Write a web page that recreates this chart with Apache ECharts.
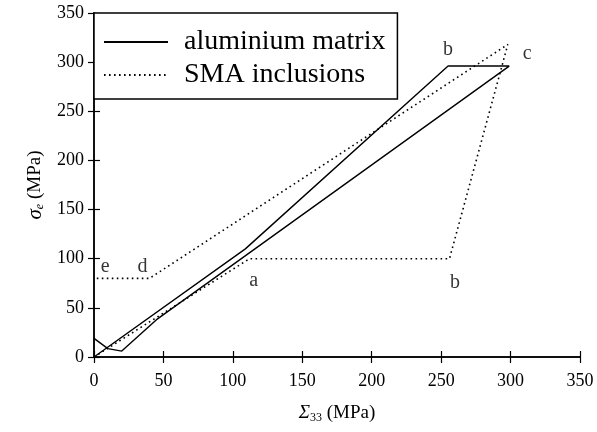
<!DOCTYPE html>
<html>
<head>
<meta charset="utf-8">
<script src="https://cdn.jsdelivr.net/npm/echarts@6/dist/echarts.min.js"></script>
<style>
  html, body { margin: 0; padding: 0; background: #fff; }
  #chart { width: 597px; height: 432px; }
</style>
</head>
<body>
<div id="chart"></div>
<script>
// 数据: aluminium matrix 路径 (Σ33, σe)
const matrixX = [0, 109, 255, 299, 45, 20, 10, 0];
const matrixY = [0, 110, 296, 296, 38, 6, 8.5, 19];
// SMA inclusions 路径
const smaX = [0, 112, 256, 298, 40, 0];
const smaY = [0, 100, 100, 318, 80, 80];
// 图上的字母标注
const noteNames = ['a', 'b', 'b', 'c', 'd', 'e'];
const noteX = [115, 260, 255, 312, 35, 8];
const noteY = [78, 76, 313, 309, 92, 92];
const xTicks = [0, 50, 100, 150, 200, 250, 300, 350];
const yTicks = [0, 50, 100, 150, 200, 250, 300, 350];

const serif = 'Liberation Serif';
const pair = (xs, ys) => xs.map((x, i) => [x, ys[i]]);

const chart = echarts.init(document.getElementById('chart'));
const axisBase = {
  type: 'value',
  min: 0,
  max: 350,
  interval: 50,
  axisLine: { show: true, lineStyle: { color: '#000', width: 1.5 } },
  axisTick: { show: true, inside: true, length: 6, lineStyle: { color: '#000', width: 1.2 } },
  splitLine: { show: false },
};
chart.setOption({
  animation: false,
  backgroundColor: '#fff',
  color: ['#000', '#000'],
  grid: { left: 94, right: 17, top: 13, bottom: 75 },
  legend: {
    left: 94,
    top: 13,
    orient: 'vertical',
    data: [
      { name: 'aluminium matrix', itemStyle: { opacity: 0 } },
      { name: 'SMA inclusions', itemStyle: { opacity: 0 } },
    ],
    itemWidth: 64,
    itemHeight: 14,
    itemGap: 5,
    padding: [15, 12, 10, 9],
    borderColor: '#000',
    borderWidth: 1.5,
    borderRadius: 0,
    backgroundColor: '#fff',
    textStyle: { fontFamily: serif, fontSize: 28, color: '#000', padding: [0, 0, 0, 11] },
  },
  xAxis: [
    Object.assign({}, axisBase, {
      position: 'bottom',
      name: '{i|Σ}{s|33}{n| (MPa)}',
      nameLocation: 'middle',
      nameGap: 45,
      nameTextStyle: {
        color: '#000',
        rich: {
          i: { fontFamily: serif, fontSize: 19, fontStyle: 'italic', color: '#000' },
          s: { fontFamily: serif, fontSize: 12, color: '#000', padding: [10, 0, 0, 0] },
          n: { fontFamily: serif, fontSize: 19, color: '#000' },
        },
      },
      axisLabel: { fontFamily: serif, fontSize: 18, color: '#000', margin: 15 },
    }),
    Object.assign({}, axisBase, { position: 'top', axisLabel: { show: false } }),
  ],
  yAxis: [
    Object.assign({}, axisBase, {
      position: 'left',
      name: '{i|σ}{s|e}{n| (MPa)}',
      nameLocation: 'middle',
      nameGap: 48,
      nameTextStyle: {
        color: '#000',
        rich: {
          i: { fontFamily: serif, fontSize: 21, fontStyle: 'italic', color: '#000' },
          s: { fontFamily: serif, fontSize: 12, fontStyle: 'italic', color: '#000', padding: [10, 0, 0, 0] },
          n: { fontFamily: serif, fontSize: 19, color: '#000' },
        },
      },
      axisLabel: { fontFamily: serif, fontSize: 18, color: '#000', margin: 10 },
    }),
    Object.assign({}, axisBase, { position: 'right', axisLabel: { show: false } }),
  ],
  series: [
    {
      name: 'aluminium matrix',
      type: 'line',
      data: pair(matrixX, matrixY),
      symbol: 'none',
      lineStyle: { color: '#000', width: 1.4, type: 'solid' },
      z: 3,
    },
    {
      name: 'SMA inclusions',
      type: 'line',
      data: pair(smaX, smaY),
      symbol: 'none',
      lineStyle: { color: '#000', width: 1.6, type: [1.6, 3.4] },
      z: 2,
    },
    {
      name: 'notes',
      type: 'scatter',
      data: noteNames.map((n, i) => ({ name: n, value: [noteX[i], noteY[i]] })),
      symbolSize: 0,
      silent: true,
      label: {
        show: true,
        position: 'inside',
        formatter: (p) => p.name,
        fontFamily: serif,
        fontSize: 20,
        color: '#000',
      },
    },
  ],
});
</script>
</body>
</html>
